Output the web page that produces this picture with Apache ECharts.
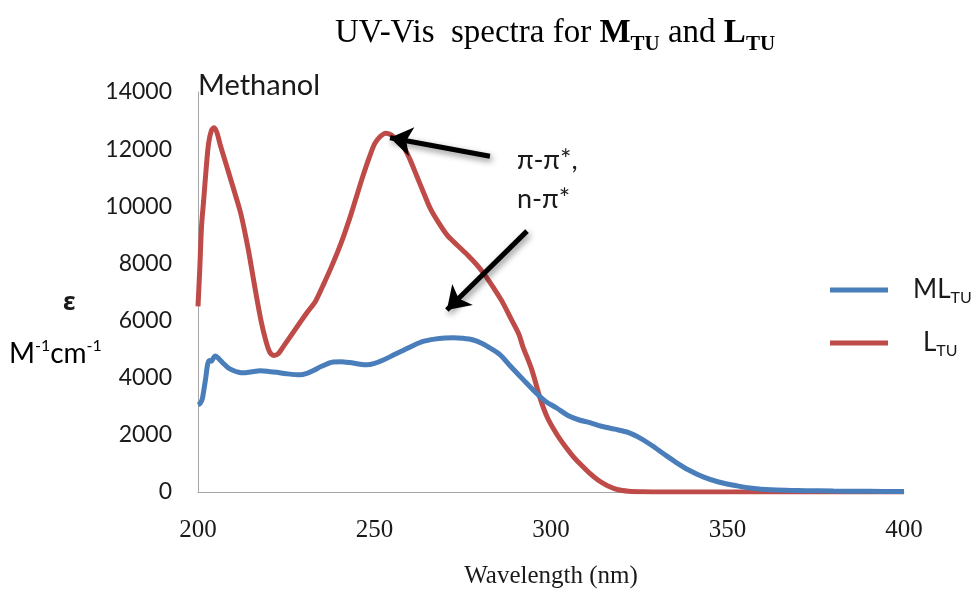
<!DOCTYPE html>
<html>
<head>
<meta charset="utf-8">
<script src="https://cdn.jsdelivr.net/npm/echarts@6/dist/echarts.min.js"></script>
<style>html,body{margin:0;padding:0;background:#fff;}#c{width:975px;height:594px;}</style>
</head>
<body>
<div id="c"></div>
<script>
// ---- data ----
var lambdaL = [200,200.5,201,201.6,202.3,203,203.8,204.5,205.3,206.3,207.4,209,210.7,212,213.1,214.3,215.5,216.7,217.9,219.1,220.3,221.5,222.8,224.5,226.6,229,231,233.3,235.5,238,240.5,242.9,244.8,246.7,248.5,250.1,251.7,253.2,254.7,256.3,258.2,260,262,264,265.9,268.3,270.7,273.6,276.5,279,281.3,283.7,286.1,288.5,290.9,292,294.5,297,299,301.6,304,306.3,308.5,311,313.5,316,319,322,326,330,340,360,380,400];
var epsL    = [6500,7800,9300,10200,11300,12200,12650,12750,12600,12150,11700,11050,10350,9800,9200,8450,7600,6750,5970,5350,4900,4780,4850,5150,5520,5950,6300,6680,7250,7940,8700,9550,10300,11050,11700,12200,12450,12560,12500,12330,12090,11650,11050,10450,9900,9400,8970,8620,8280,7950,7590,7150,6680,6100,5520,5100,4300,3250,2600,2030,1600,1240,950,650,400,220,80,30,8,3,2,2,2,2];

var lambdaML = [200,200.6,201.2,201.7,202.2,202.7,203.2,203.8,204.4,204.9,205.6,206.4,207.2,208.5,210,211.5,212.8,215,217.6,220,222.3,225,228.9,231,232.7,235,238.3,240.5,243,245.5,247.8,250,252.5,255.5,258.2,261,263.8,267,270,272.3,275,278,280.5,282.7,285.6,288.4,292,295.5,298.5,301.6,304.8,308,311,314.3,318,322,325.5,328.7,332,335.4,339,343.1,347.5,352.7,357,362.3,368,372,380,390,400];
var epsML    = [3050,3100,3250,3600,4000,4450,4600,4580,4700,4760,4700,4600,4500,4350,4250,4190,4170,4200,4240,4220,4190,4140,4100,4160,4250,4400,4550,4560,4530,4480,4450,4500,4620,4800,4960,5130,5270,5350,5390,5400,5380,5320,5200,5040,4800,4420,3950,3500,3170,2940,2680,2520,2430,2300,2200,2080,1870,1620,1330,1040,770,530,350,215,130,75,55,45,35,25,15];

var xTicks = {min: 200, max: 400, step: 50};
var yTicks = {min: 0, max: 14000, step: 2000};

// arrows: [fromX, fromY, toX, toY] in data units
var arrowPeak = [282.7, 11750, 254.4, 12400];
var arrowBand = [293.2, 9130, 270.5, 6370];

function pairs(xs, ys){ return xs.map(function(x,i){ return [x, ys[i]]; }); }

var chart = echarts.init(document.getElementById('c'), null, {renderer:'canvas'});
var sans = 'Lato, "Noto Sans", sans-serif';
var serif = '"Liberation Serif", "Times New Roman", serif';

chart.setOption({
  animation: false,
  backgroundColor: '#fff',
  grid: {left: 198, right: 71, top: 92, bottom: 91, containLabel: false},
  xAxis: {
    type: 'value', min: xTicks.min, max: xTicks.max, interval: xTicks.step,
    axisLine: {show: true, lineStyle: {color: '#a6a6a6', width: 1}},
    axisTick: {show: false}, splitLine: {show: false},
    axisLabel: {fontFamily: serif, fontSize: 25, color: '#1a1a1a', margin: 26},
    name: 'Wavelength (nm)', nameLocation: 'middle', nameGap: 72,
    nameTextStyle: {fontFamily: serif, fontSize: 25, color: '#1a1a1a'}
  },
  yAxis: {
    type: 'value', min: yTicks.min, max: yTicks.max, interval: yTicks.step,
    axisLine: {show: true, lineStyle: {color: '#a6a6a6', width: 1}},
    axisTick: {show: false}, splitLine: {show: false},
    axisLabel: {fontFamily: sans, fontSize: 23, color: '#1a1a1a', margin: 26,
      formatter: function(v){ return String(v); }}
  },
  legend: {
    orient: 'vertical', left: 825, top: 272, itemWidth: 58, itemHeight: 5,
    itemGap: 24, icon: 'rect',
    data: ['ML', 'L'],
    formatter: function(name){
      return name === 'ML' ? '{a|ML}{s|TU}' : '{b|L}{s|TU}';
    },
    textStyle: {
      rich: {
        a: {fontFamily: sans, fontSize: 26, color: '#1a1a1a', lineHeight: 32, padding: [0,0,0,20]},
        b: {fontFamily: sans, fontSize: 26, color: '#1a1a1a', lineHeight: 32, padding: [0,0,0,30]},
        s: {fontFamily: sans, fontSize: 16, color: '#1a1a1a', lineHeight: 16, verticalAlign: 'bottom'}
      }
    }
  },
  series: [
    {
      name: 'ML', type: 'line', data: pairs(lambdaML, epsML), smooth: 0.3,
      showSymbol: false, symbol: 'none',
      lineStyle: {color: '#4a7ebb', width: 5}, itemStyle: {color: '#4a7ebb'}, z: 3
    },
    {
      name: 'L', type: 'line', data: pairs(lambdaL, epsL), smooth: 0.3,
      showSymbol: false, symbol: 'none',
      lineStyle: {color: '#be4b48', width: 5}, itemStyle: {color: '#be4b48'}, z: 2,
      markLine: {
        silent: true, symbol: ['none', 'arrow'], symbolSize: 22,
        label: {show: false},
        itemStyle: {color: '#000'},
        emphasis: {disabled: true},
        lineStyle: {color: '#000', width: 5, type: 'solid', shadowBlur: 6, shadowColor: 'rgba(0,0,0,0.45)', shadowOffsetX: 2, shadowOffsetY: 3},
        data: [
          [{coord: [arrowPeak[0], arrowPeak[1]]}, {coord: [arrowPeak[2], arrowPeak[3]]}],
          [{coord: [arrowBand[0], arrowBand[1]]}, {coord: [arrowBand[2], arrowBand[3]]}]
        ]
      }
    }
  ],
  graphic: [
    {
      type: 'text', left: 335, top: 17,
      style: {
        text: '{n|UV-Vis  spectra for }{m|M}{s|TU}{n| and }{m|L}{s|TU}',
        rich: {
          n: {fontFamily: serif, fontSize: 33, color: '#1a1a1a', lineHeight: 43},
          m: {fontFamily: serif, fontSize: 33, fontWeight: 'bold', color: '#1a1a1a', lineHeight: 43},
          s: {fontFamily: serif, fontSize: 21, fontWeight: 'bold', color: '#1a1a1a', lineHeight: 21, verticalAlign: 'bottom'}
        }
      }
    },
    {
      type: 'text', left: 198, top: 71,
      style: {text: 'Methanol', fontFamily: sans, fontSize: 29, fill: '#1a1a1a'}
    },
    {
      type: 'text', left: 517, top: 147,
      style: {text: 'π-π*,', fontFamily: sans, fontSize: 27, fill: '#1a1a1a'}
    },
    {
      type: 'text', left: 517, top: 186,
      style: {text: 'n-π*', fontFamily: sans, fontSize: 27, fill: '#1a1a1a'}
    },
    {
      type: 'text', left: 63, top: 290,
      style: {text: 'ε', fontFamily: '"Noto Sans", sans-serif', fontWeight: 'bold', fontSize: 25, fill: '#1a1a1a'}
    },
    {
      type: 'text', left: 9, top: 338,
      style: {
        text: '{m|M}{p|-1}{m|cm}{p|-1}',
        rich: {
          m: {fontFamily: sans, fontSize: 28, color: '#1a1a1a', lineHeight: 32},
          p: {fontFamily: sans, fontSize: 16, color: '#1a1a1a', lineHeight: 16, verticalAlign: 'top'}
        }
      }
    }
  ]
});
</script>
</body>
</html>
